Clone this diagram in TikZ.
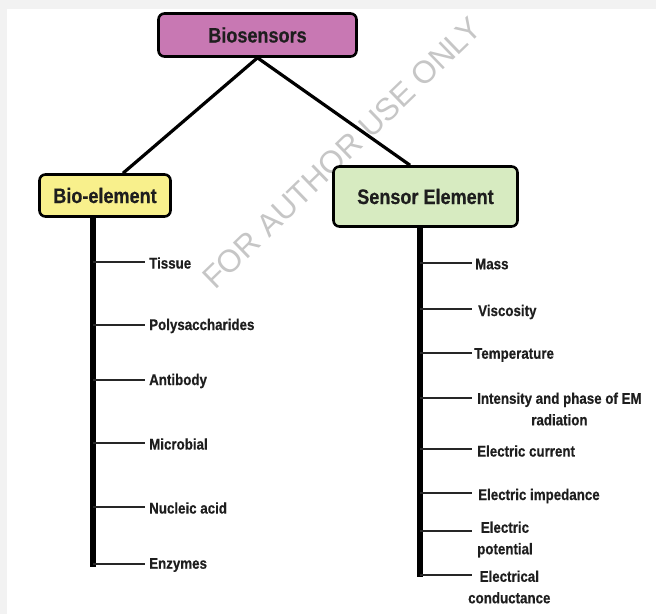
\documentclass[tikz,border=0pt]{standalone}
\usepackage{fontspec}
\setmainfont{Liberation Sans}[FakeStretch=0.86, BoldFeatures={FakeBold=0.5}]
\newfontfamily\wmfont{Liberation Sans}
\usetikzlibrary{positioning}
\definecolor{boxpink}{HTML}{C878B3}
\definecolor{boxyellow}{HTML}{F8F08C}
\definecolor{boxgreen}{HTML}{D7EBC1}
\definecolor{txtdark}{HTML}{1E1E1E}
\definecolor{wmgray}{HTML}{C6C6C6}
\definecolor{edgegray}{HTML}{F2F2F2}
\tikzset{
  headbox/.style={draw=black, line width=2.6pt, rounded corners=6pt, text=txtdark,
    font=\fontsize{21}{24}\selectfont\bfseries, inner sep=0pt},
  item/.style={text=txtdark, font=\fontsize{15.5}{21.5}\selectfont\bfseries,
    align=center, inner sep=0pt, anchor=west},
  link/.style={line width=3.2pt},
  trunk/.style={line width=6pt},
  tick/.style={line width=1.8pt, black!85}
}
\begin{document}
\begin{tikzpicture}[x=1pt, y=-1pt]
\useasboundingbox (0,0) rectangle (656,614);
\fill[edgegray] (0,0) rectangle (656,614);
\fill[white] (7,9) rectangle (656,614);

% watermark
\node[wmgray, rotate=44, font=\wmfont\fontsize{31.5}{32}\selectfont] (wm) at (342,153) {FOR AUTHOR USE ONLY};

% boxes
\node[headbox, fill=boxpink, minimum width=198pt, minimum height=43pt] (bios) at (257.5,35) {Biosensors};
\node[headbox, fill=boxyellow, minimum width=131pt, minimum height=42pt] (bio) at (105,195.5) {Bio-element};
\node[headbox, fill=boxgreen, minimum width=184pt, minimum height=60pt] (sens) at (425.5,196.5) {Sensor Element};

\draw[link] (bios.south) -- ([xshift=18pt]bio.north);
\draw[link] (bios.south) -- ([xshift=-15.5pt]sens.north);

% bio-element branch
\coordinate (biobot) at (93,567);
\draw[trunk] ([xshift=-12pt]bio.south) -- (biobot);
\foreach \y/\name/\txt in {262/tissue/Tissue, 325/poly/Polysaccharides, 380/anti/Antibody,
    443/micro/Microbial, 507/nucl/Nucleic acid, 564/enz/Enzymes} {
  \coordinate (\name-end) at (145,\y);
  \draw[tick] (biobot |- \name-end) -- (\name-end);
  \node[item, right=4pt of \name-end, yshift=-1pt] (\name) {\txt};
}

% sensor element branch
\coordinate (sensbot) at (420,577);
\draw[trunk] ([xshift=-5.5pt]sens.south) -- (sensbot);
\foreach \y/\name in {263/mass, 309/visc, 353/temp, 398/inten, 449/curr, 493/imped, 531/poten, 575/cond} {
  \coordinate (\name-end) at (472,\y);
  \draw[tick] (sensbot |- \name-end) -- (\name-end);
}
\node[item, right=3pt of mass-end, yshift=-1pt] (mass) {Mass};
\node[item, right=6pt of visc-end, yshift=-3pt] (visc) {Viscosity};
\node[item, right=2pt of temp-end, yshift=-2pt] (temp) {Temperature};
\node[item, right=5pt of inten-end, yshift=-11pt] (inten) {Intensity and phase of EM\\radiation};
\node[item, right=5pt of curr-end, yshift=-2pt] (curr) {Electric current};
\node[item, right=6pt of imped-end, yshift=-3pt] (imped) {Electric impedance};
\node[item, right=5pt of poten-end, yshift=-8.5pt] (poten) {Electric\\potential};
\node[item, right=-4pt of cond-end, yshift=-12pt] (cond) {Electrical\\conductance};
\end{tikzpicture}
\end{document}
